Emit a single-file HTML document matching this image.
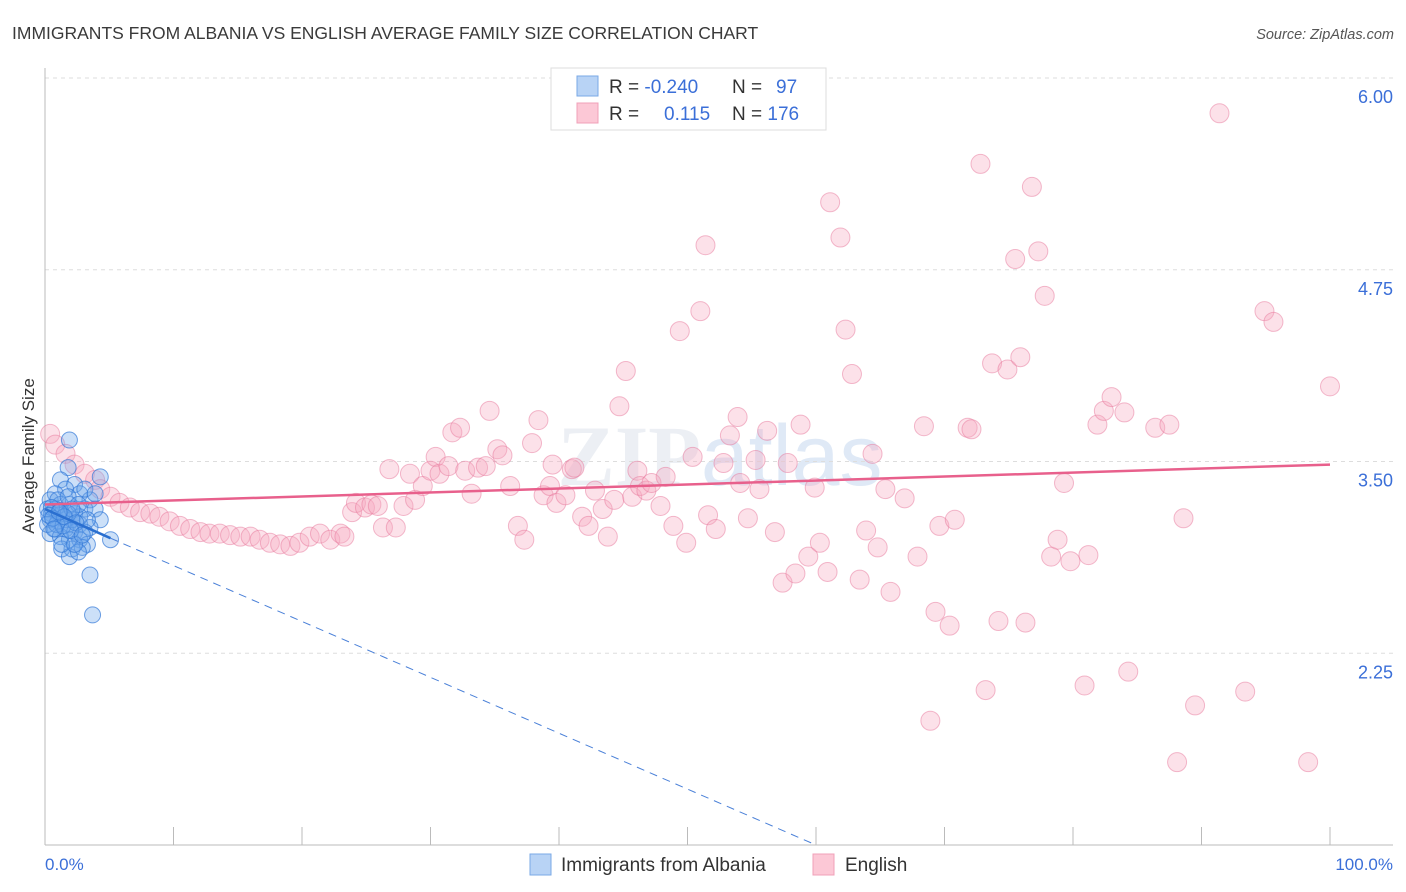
<!DOCTYPE html>
<html><head><meta charset="utf-8"><style>
body{margin:0;background:#fff;font-family:"Liberation Sans",sans-serif;}
#wrap{position:relative;width:1406px;height:892px;overflow:hidden;}
</style></head><body>
<div id="wrap">
<svg id="chart" width="1406" height="892">
<text x="12" y="39" font-size="17.5" fill="#3a3a3a">IMMIGRANTS FROM ALBANIA VS ENGLISH AVERAGE FAMILY SIZE CORRELATION CHART</text>
<text x="1394" y="39" font-size="14.5" fill="#555" font-style="italic" text-anchor="end">Source: ZipAtlas.com</text>
<text x="720" y="485" font-size="86" fill="#eceff4" text-anchor="middle" font-weight="bold" font-family="Liberation Serif,serif">ZIP<tspan font-family="Liberation Sans,sans-serif" font-weight="normal" fill="#dfe9f6">atlas</tspan></text>
<g id="grid"></g><g id="axes"></g><g id="pink"></g><g id="blue"></g><g id="trends"></g>
<text x="34" y="456" font-size="17" fill="#333" text-anchor="middle" transform="rotate(-90 34 456)">Average Family Size</text>
<text x="45" y="870" font-size="17" fill="#3b6fd8">0.0%</text>
<text x="1393" y="870" font-size="17" fill="#3b6fd8" text-anchor="end">100.0%</text>
<g>
<rect x="551" y="68" width="275" height="62" fill="#fff" stroke="#ddd"/>
<rect x="577" y="76" width="21" height="20" fill="#b8d3f5" stroke="#7aa8e6"/>
<rect x="577" y="103" width="21" height="20" fill="#fcc8d6" stroke="#f0a0b8"/>
<text x="609" y="93" font-size="19" fill="#333">R = <tspan fill="#3b6fd8">-0.240</tspan></text>
<text x="732" y="93" font-size="19" fill="#333">N = <tspan fill="#3b6fd8" x="776">97</tspan></text>
<text x="609" y="120" font-size="19" fill="#333">R = <tspan fill="#3b6fd8" x="664">0.115</tspan></text>
<text x="732" y="120" font-size="19" fill="#333">N = <tspan fill="#3b6fd8">176</tspan></text>
</g>
<g>
<rect x="530" y="854" width="21" height="21" fill="#b8d3f5" stroke="#7aa8e6"/>
<text x="561" y="871" font-size="19" fill="#333">Immigrants from Albania</text>
<rect x="813" y="854" width="21" height="21" fill="#fcc8d6" stroke="#f0a0b8"/>
<text x="845" y="871" font-size="19" fill="#333">English</text>
</g>
</svg></div>
<script>
const yTicks=[6.00,4.75,3.50,2.25];
const yTickLabels=["6.00","4.75","3.50","2.25"];
const xTicks=[0,10,20,30,40,50,60,70,80,90,100];
const pinkX=[0.4,0.8,1.6,2.3,3.1,3.9,4.3,5.1,5.8,6.6,7.4,8.2,8.9,9.7,10.5,11.3,12.1,12.8,13.6,14.4,15.2,16.0,16.7,17.5,18.3,19.1,19.8,20.6,21.4,22.2,23.0,23.3,23.9,24.2,24.9,25.4,25.9,26.3,26.8,27.3,27.9,28.4,28.8,29.4,30.0,30.4,30.7,31.4,31.7,32.3,32.7,33.2,33.7,34.3,34.6,35.2,35.6,36.2,36.8,37.3,37.9,38.4,38.8,39.3,39.5,39.8,40.5,41.0,41.2,41.8,42.3,42.8,43.4,43.8,44.3,44.7,45.2,45.7,46.1,46.3,46.8,47.2,47.9,48.3,48.9,49.4,49.9,50.4,51.0,51.4,51.6,52.2,52.8,53.3,53.9,54.1,54.7,55.3,55.6,56.2,56.8,57.4,57.8,58.4,58.8,59.4,59.9,60.3,60.9,61.1,61.9,62.3,62.8,63.4,63.9,64.4,64.8,65.4,65.8,66.9,67.9,68.4,68.9,69.3,69.6,70.4,70.8,71.8,72.1,72.8,73.2,73.7,74.2,74.9,75.5,75.9,76.3,76.8,77.3,77.8,78.3,78.8,79.3,79.8,80.9,81.2,81.9,82.4,83.0,84.0,84.3,86.4,87.5,88.1,88.6,89.5,91.4,93.4,94.9,95.6,98.3,100.0];
const pinkY=[3.68,3.61,3.55,3.48,3.42,3.38,3.32,3.27,3.23,3.20,3.17,3.16,3.14,3.11,3.08,3.06,3.04,3.03,3.03,3.02,3.01,3.01,2.99,2.97,2.96,2.95,2.97,3.01,3.03,2.99,3.03,3.01,3.17,3.23,3.20,3.22,3.21,3.07,3.45,3.07,3.21,3.42,3.25,3.34,3.44,3.53,3.42,3.47,3.69,3.72,3.44,3.29,3.46,3.47,3.83,3.58,3.54,3.34,3.08,2.99,3.62,3.77,3.28,3.34,3.48,3.23,3.28,3.45,3.46,3.14,3.08,3.31,3.19,3.01,3.25,3.86,4.09,3.27,3.44,3.34,3.31,3.36,3.21,3.40,3.08,4.35,2.97,3.53,4.48,4.91,3.15,3.06,3.49,3.67,3.79,3.36,3.13,3.51,3.32,3.70,3.04,2.71,3.49,2.77,3.74,2.88,3.33,2.97,2.78,5.19,4.96,4.36,4.07,2.73,3.05,3.55,2.94,3.32,2.65,3.26,2.88,3.73,1.81,2.52,3.08,2.43,3.12,3.72,3.71,5.44,2.01,4.14,2.46,4.10,4.82,4.18,2.45,5.29,4.87,4.58,2.88,2.99,3.36,2.85,2.04,2.89,3.74,3.83,3.92,3.82,2.13,3.72,3.74,1.54,3.13,1.91,5.77,2.00,4.48,4.41,1.54,3.99];
const blueX=[1.9,1.8,4.3,1.2,2.3,1.6,0.8,2.7,3.5,0.4,1.2,1.9,3.1,3.9,0.5,1.3,2.3,4.3,0.4,1.0,1.8,2.7,3.5,0.8,1.6,2.3,3.1,0.4,1.2,1.9,2.7,3.3,1.3,2.1,2.9,1.9,2.6,5.1,3.5,3.7,0.2,0.2,0.8,1.6,2.1,2.7,3.3,1.0,1.8,2.6,3.1,3.9,1.3,2.3,0.5,1.2,1.8,0.9,1.4,2.1,0.3,0.6,1.5,2.4,0.7,1.1,2.0,2.9];
const blueY=[3.64,3.46,3.40,3.38,3.35,3.32,3.29,3.29,3.25,3.25,3.22,3.22,3.19,3.19,3.16,3.16,3.16,3.12,3.12,3.11,3.09,3.09,3.07,3.06,3.06,3.04,3.04,3.03,3.01,2.99,2.99,2.96,2.93,2.93,2.94,2.88,2.91,2.99,2.76,2.50,3.19,3.09,3.19,3.12,3.12,3.14,3.12,3.25,3.27,3.22,3.32,3.29,2.96,2.96,3.20,3.18,3.16,3.09,3.08,3.19,3.15,3.13,3.14,3.10,3.06,3.17,3.05,3.02];
const pinkTrend=[[0,3.22],[100,3.48]];
const blueTrendSolid=[[0,3.19],[5.1,3.0]];
const blueTrendDash=[[5.1,3.0],[60,1.0]];
const NS="http://www.w3.org/2000/svg";
function sx(v){return 45+v*12.85;}
function sy(v){return 78+(6-v)*153.4;}
function mk(tag,attrs,parent){const e=document.createElementNS(NS,tag);for(const k in attrs)e.setAttribute(k,attrs[k]);parent.appendChild(e);return e;}
const grid=document.getElementById('grid'),axes=document.getElementById('axes');
yTicks.forEach((t,i)=>{
 const l=mk('line',{x1:45,x2:1393,y1:sy(t),y2:sy(t),stroke:'#ddd','stroke-dasharray':'4,4'},grid);
 
 
 const tx=mk('text',{x:1393,y:sy(t)+25,'font-size':18,fill:'#3b6fd8','text-anchor':'end'},grid);
 tx.textContent=yTickLabels[i];
 
 
});
const ya=mk('line',{x1:45,x2:45,y1:68,y2:845,stroke:'#bbb'},axes);


const xa=mk('line',{x1:45,x2:1393,y1:845,y2:845,stroke:'#bbb'},axes);


xTicks.forEach(t=>{
 const l=mk('line',{x1:sx(t),x2:sx(t),y1:827,y2:845,stroke:'#bbb'},axes);
 
 
});
const pg=document.getElementById('pink');
pinkX.forEach((x,i)=>{
 const c=mk('circle',{cx:sx(x),cy:sy(pinkY[i]),r:9.5,fill:'rgba(246,168,192,0.35)',stroke:'rgba(232,120,155,0.5)','stroke-width':1},pg);
 
 
});
const bg=document.getElementById('blue');
blueX.forEach((x,i)=>{
 const c=mk('circle',{cx:sx(x),cy:sy(blueY[i]),r:8,fill:'rgba(110,165,235,0.35)',stroke:'rgba(50,120,215,0.7)','stroke-width':1},bg);
 
 
});
const tg=document.getElementById('trends');
const pt=mk('line',{x1:sx(pinkTrend[0][0]),y1:sy(pinkTrend[0][1]),x2:sx(pinkTrend[1][0]),y2:sy(pinkTrend[1][1]),stroke:'#e8608c','stroke-width':2.5},tg);


const bt=mk('line',{x1:sx(blueTrendSolid[0][0]),y1:sy(blueTrendSolid[0][1]),x2:sx(blueTrendSolid[1][0]),y2:sy(blueTrendSolid[1][1]),stroke:'#2a6fd0','stroke-width':2.5},tg);


const bd=mk('line',{x1:sx(blueTrendDash[0][0]),y1:sy(blueTrendDash[0][1]),x2:sx(blueTrendDash[1][0]),y2:sy(blueTrendDash[1][1]),stroke:'#4a80d8','stroke-width':1,'stroke-dasharray':'8,6'},tg);


</script>
</body></html>
